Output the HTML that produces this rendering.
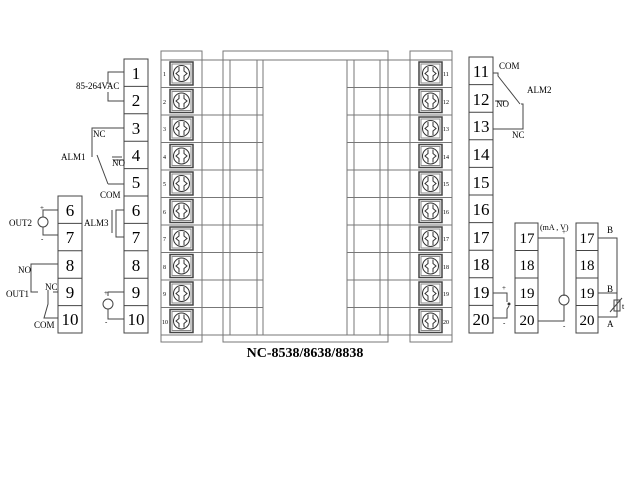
<!DOCTYPE html>
<html><head><style>body{margin:0;background:#fff}svg{display:block}</style></head><body>
<svg width="640" height="480" viewBox="0 0 640 480" xmlns="http://www.w3.org/2000/svg" font-family="Liberation Serif, serif" fill="none" stroke="#444" stroke-width="1">
<rect width="640" height="480" fill="#fff" stroke="none"/>
<!-- left big terminal block -->
<g id="lb">
<rect x="124" y="59" width="24" height="274"/>
</g>
<g stroke="#444">
<line x1="124" y1="86.4" x2="148" y2="86.4"/><line x1="124" y1="113.8" x2="148" y2="113.8"/><line x1="124" y1="141.2" x2="148" y2="141.2"/><line x1="124" y1="168.6" x2="148" y2="168.6"/><line x1="124" y1="196" x2="148" y2="196"/><line x1="124" y1="223.4" x2="148" y2="223.4"/><line x1="124" y1="250.8" x2="148" y2="250.8"/><line x1="124" y1="278.2" x2="148" y2="278.2"/><line x1="124" y1="305.6" x2="148" y2="305.6"/>
</g>
<g fill="#000" stroke="none" font-size="17" text-anchor="middle">
<text x="136" y="79">1</text><text x="136" y="106">2</text><text x="136" y="134">3</text><text x="136" y="161">4</text><text x="136" y="188">5</text><text x="136" y="216">6</text><text x="136" y="243">7</text><text x="136" y="271">8</text><text x="136" y="298">9</text><text x="136" y="325">10</text>
</g>
<!-- left small block -->
<rect x="58" y="196" width="24" height="137"/>
<line x1="58" y1="223.4" x2="82" y2="223.4"/><line x1="58" y1="250.8" x2="82" y2="250.8"/><line x1="58" y1="278.2" x2="82" y2="278.2"/><line x1="58" y1="305.6" x2="82" y2="305.6"/>
<g fill="#000" stroke="none" font-size="17" text-anchor="middle">
<text x="70" y="216">6</text><text x="70" y="243">7</text><text x="70" y="271">8</text><text x="70" y="298">9</text><text x="70" y="325">10</text>
</g>
<!-- left wiring -->
<polyline points="124,72 108,72 108,84"/><polyline points="108,92 108,101 124,101"/>
<polyline points="124,128 92,128 92,157"/><line x1="97" y1="155" x2="108" y2="184"/><line x1="113" y1="160" x2="124" y2="160"/><line x1="108" y1="184" x2="124" y2="184"/>
<polyline points="124,210 116,210 116,233"/><line x1="112" y1="210" x2="112" y2="233"/><polyline points="116,233 116,237 124,237"/>
<polyline points="124,292 108,292 108,296"/><circle cx="108" cy="304" r="5"/><polyline points="108,309 108,319 124,319"/>
<polyline points="58,210 43,210 43,235 58,235"/><circle cx="43" cy="222" r="5" fill="#fff"/>
<polyline points="58,264 31,264 31,292 38,292"/><polyline points="48,290 48,304 44,318 58,318"/><line x1="53" y1="292" x2="58" y2="292"/>
<g fill="#000" stroke="none" font-size="9">
<text x="76" y="89">85-264VAC</text><text x="93" y="137">NC</text><text x="61" y="160">ALM1</text><text x="112" y="166">NO</text><text x="100" y="198">COM</text>
<text x="84" y="226">ALM3</text><text x="9" y="226">OUT2</text><text x="18" y="273">NO</text><text x="6" y="297">OUT1</text><text x="45" y="290">NC</text><text x="34" y="328">COM</text>
<text x="40" y="210" font-size="7">+</text><text x="41" y="241" font-size="7">-</text><text x="104" y="295" font-size="7">+</text><text x="105" y="324" font-size="7">-</text>
</g>
<line x1="112" y1="157" x2="122" y2="157"/>
<!-- device -->
<g stroke="#777">
<rect x="161" y="51" width="41" height="291"/><rect x="410" y="51" width="42" height="291"/>
<rect x="223" y="51" width="165" height="291"/>
<rect x="263" y="60" width="84" height="275"/>
<line x1="161" y1="60" x2="263" y2="60"/><line x1="347" y1="60" x2="452" y2="60"/>
<line x1="161" y1="335" x2="263" y2="335"/><line x1="347" y1="335" x2="452" y2="335"/>
<line x1="230" y1="60" x2="230" y2="335"/><line x1="257" y1="60" x2="257" y2="335"/>
<line x1="354" y1="60" x2="354" y2="335"/><line x1="380" y1="60" x2="380" y2="335"/>
<line x1="202" y1="60" x2="202" y2="335"/><line x1="410" y1="60" x2="410" y2="335"/>
</g>
<g stroke="#777" id="rows">
<line x1="161" y1="87.5" x2="263" y2="87.5"/><line x1="347" y1="87.5" x2="452" y2="87.5"/>
<line x1="161" y1="115" x2="263" y2="115"/><line x1="347" y1="115" x2="452" y2="115"/>
<line x1="161" y1="142.5" x2="263" y2="142.5"/><line x1="347" y1="142.5" x2="452" y2="142.5"/>
<line x1="161" y1="170" x2="263" y2="170"/><line x1="347" y1="170" x2="452" y2="170"/>
<line x1="161" y1="197.5" x2="263" y2="197.5"/><line x1="347" y1="197.5" x2="452" y2="197.5"/>
<line x1="161" y1="225" x2="263" y2="225"/><line x1="347" y1="225" x2="452" y2="225"/>
<line x1="161" y1="252.5" x2="263" y2="252.5"/><line x1="347" y1="252.5" x2="452" y2="252.5"/>
<line x1="161" y1="280" x2="263" y2="280"/><line x1="347" y1="280" x2="452" y2="280"/>
<line x1="161" y1="307.5" x2="263" y2="307.5"/><line x1="347" y1="307.5" x2="452" y2="307.5"/>
</g>
<defs><g id="sc"><rect x="0" y="0" width="23" height="23" stroke="#444" stroke-width="1.5"/><rect x="2" y="2" width="19" height="19" stroke="#888"/><circle cx="11.5" cy="11.5" r="8" stroke="#333"/><path d="M9 5 L9 9 L6 11.5 L9 14 L9 18 M14 5 L14 9 L17 11.5 L14 14 L14 18" stroke="#333"/></g></defs>
<g>
<use href="#sc" x="170" y="62"/><use href="#sc" x="170" y="89.5"/><use href="#sc" x="170" y="117"/><use href="#sc" x="170" y="144.5"/><use href="#sc" x="170" y="172"/><use href="#sc" x="170" y="199.5"/><use href="#sc" x="170" y="227"/><use href="#sc" x="170" y="254.5"/><use href="#sc" x="170" y="282"/><use href="#sc" x="170" y="309.5"/>
<use href="#sc" x="419" y="62"/><use href="#sc" x="419" y="89.5"/><use href="#sc" x="419" y="117"/><use href="#sc" x="419" y="144.5"/><use href="#sc" x="419" y="172"/><use href="#sc" x="419" y="199.5"/><use href="#sc" x="419" y="227"/><use href="#sc" x="419" y="254.5"/><use href="#sc" x="419" y="282"/><use href="#sc" x="419" y="309.5"/>
</g>
<g fill="#000" stroke="none" font-size="6">
<text x="163" y="76">1</text><text x="163" y="104">2</text><text x="163" y="131">3</text><text x="163" y="159">4</text><text x="163" y="186">5</text><text x="163" y="214">6</text><text x="163" y="241">7</text><text x="163" y="269">8</text><text x="163" y="296">9</text><text x="162" y="324">10</text>
<text x="443" y="76">11</text><text x="443" y="104">12</text><text x="443" y="131">13</text><text x="443" y="159">14</text><text x="443" y="186">15</text><text x="443" y="214">16</text><text x="443" y="241">17</text><text x="443" y="269">18</text><text x="443" y="296">19</text><text x="443" y="324">20</text>
</g>
<text x="305" y="357" fill="#000" stroke="none" font-size="14" font-weight="bold" text-anchor="middle">NC-8538/8638/8838</text>
<!-- right block -->
<rect x="469" y="57" width="24" height="276"/>
<g>
<line x1="469" y1="84.6" x2="493" y2="84.6"/><line x1="469" y1="112.2" x2="493" y2="112.2"/><line x1="469" y1="139.8" x2="493" y2="139.8"/><line x1="469" y1="167.4" x2="493" y2="167.4"/><line x1="469" y1="195" x2="493" y2="195"/><line x1="469" y1="222.6" x2="493" y2="222.6"/><line x1="469" y1="250.2" x2="493" y2="250.2"/><line x1="469" y1="277.8" x2="493" y2="277.8"/><line x1="469" y1="305.4" x2="493" y2="305.4"/>
</g>
<g fill="#000" stroke="none" font-size="17" text-anchor="middle">
<text x="481" y="77">11</text><text x="481" y="105">12</text><text x="481" y="132">13</text><text x="481" y="160">14</text><text x="481" y="188">15</text><text x="481" y="215">16</text><text x="481" y="243">17</text><text x="481" y="270">18</text><text x="481" y="298">19</text><text x="481" y="325">20</text>
</g>
<rect x="515" y="223" width="23" height="110"/>
<line x1="515" y1="250.5" x2="538" y2="250.5"/><line x1="515" y1="278" x2="538" y2="278"/><line x1="515" y1="305.5" x2="538" y2="305.5"/>
<rect x="576" y="223" width="22" height="110"/>
<line x1="576" y1="250.5" x2="598" y2="250.5"/><line x1="576" y1="278" x2="598" y2="278"/><line x1="576" y1="305.5" x2="598" y2="305.5"/>
<g fill="#000" stroke="none" font-size="15" text-anchor="middle">
<text x="527" y="243">17</text><text x="527" y="270">18</text><text x="527" y="298">19</text><text x="527" y="325">20</text>
<text x="587" y="243">17</text><text x="587" y="270">18</text><text x="587" y="298">19</text><text x="587" y="325">20</text>
</g>
<!-- right wiring -->
<polyline points="493,73 498,73 498,76 520,104"/><line x1="495" y1="101" x2="507" y2="101"/>
<polyline points="521,104 523,104 523,129 493,129"/>
<polyline points="493,293 507,293 507,302"/><polyline points="509,306 507,309 507,318 493,318"/><circle cx="509" cy="304" r="1" fill="#000"/>
<polyline points="538,238 564,238 564,296"/><circle cx="564" cy="300" r="5"/><polyline points="564,305 564,321 538,321"/>
<polyline points="598,238 617,238 617,317 598,317"/><line x1="598" y1="293" x2="617" y2="293"/>
<rect x="614" y="300" width="6" height="11"/><line x1="610" y1="312" x2="622" y2="298"/>
<g fill="#000" stroke="none" font-size="9">
<text x="499" y="69">COM</text><text x="527" y="93">ALM2</text><text x="496" y="107">NO</text><text x="512" y="138">NC</text>
<text x="540" y="230" font-size="8">(mA , V)</text><text x="562" y="234" font-size="7">+</text><text x="563" y="328" font-size="7">-</text>
<text x="502" y="290" font-size="7">+</text><text x="503" y="325" font-size="7">-</text>
<text x="607" y="233">B</text><text x="607" y="292">B</text><text x="607" y="327">A</text><text x="622" y="309" font-size="8">t</text>
</g>
</svg>
</body></html>
